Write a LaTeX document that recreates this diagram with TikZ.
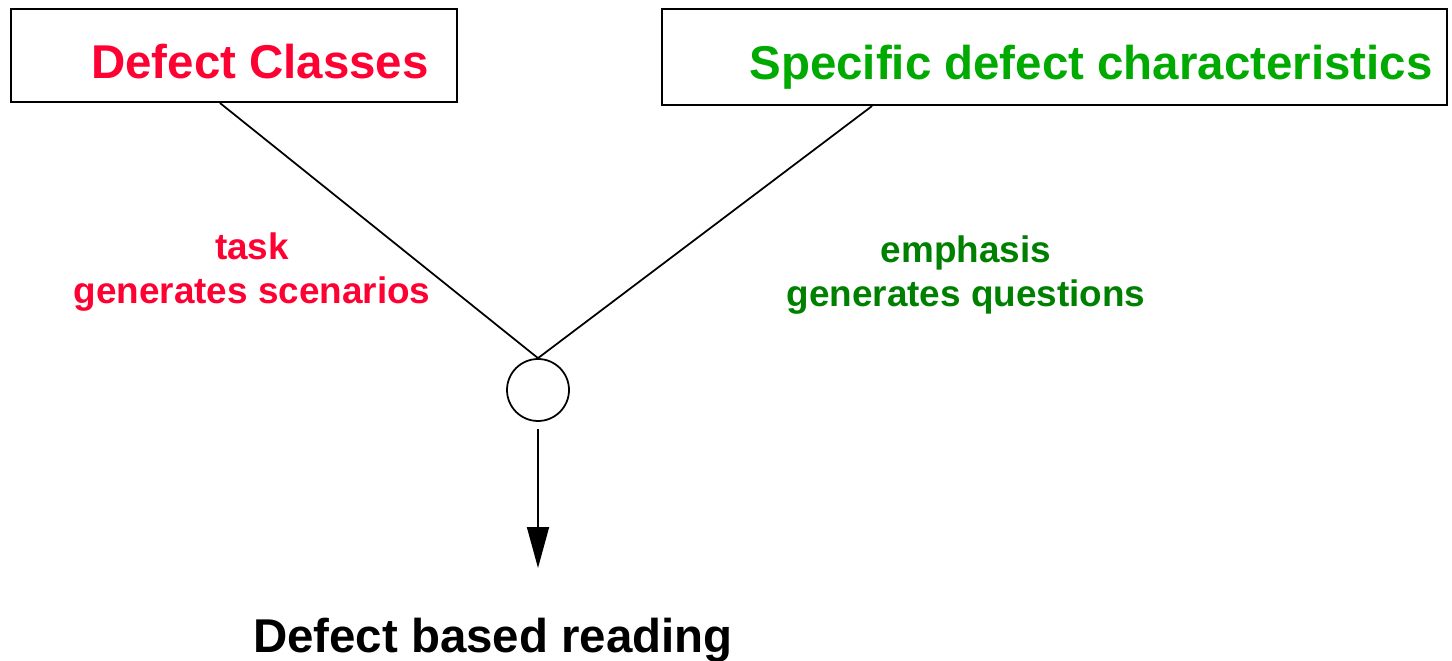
\documentclass[tikz,border=0pt]{standalone}
\usepackage{fontspec}
\setmainfont{Liberation Sans}
\definecolor{defred}{HTML}{FF0033}
\definecolor{specgreen}{HTML}{00AA00}
\definecolor{labgreen}{HTML}{008000}
\usetikzlibrary{arrows.meta, positioning, calc}

\begin{document}
\begin{tikzpicture}[x=0.02cm, y=-0.02cm,
    box/.style={rectangle, draw=black, line width=1.2pt, fill=white},
    title/.style={anchor=base, inner sep=0pt,
                  font=\fontsize{27}{32}\selectfont\bfseries},
    lab/.style={align=center, inner sep=0pt,
                font=\fontsize{21}{25.5}\selectfont\bfseries},
    link/.style={black, line width=1pt}
  ]
    \useasboundingbox (0,0) rectangle (1452,661);
    % Defect classes (left box)
    \node[box, minimum width=8.92cm, minimum height=1.86cm] (classes)
      at (234, 55.5) {};
    \node[title, defred] (classestxt) at (260, 79) {Defect Classes};
    % Specific characteristics (right box)
    \node[box, minimum width=15.7cm, minimum height=1.92cm] (specific)
      at (1054.5, 57) {};
    \node[title, specgreen] (specifictxt) at (1091, 80)
      {Specific defect characteristics};
    % Join point
    \node[circle, draw=black, line width=1pt, minimum size=1.24cm,
          inner sep=0pt] (dot) at (538, 390) {};
    \coordinate (tip) at (538, 568);
    % Labels on the branches
    \node[lab, defred] (task) at (252, 272)
      {task\\generates scenarios};
    \node[lab, labgreen] (emph) at (966, 275)
      {emphasis\\generates questions};
    % Result
    \node[title, black] (reading) at (493, 652) {Defect based reading};

    % Branch connections
    \draw[link] ([xshift=-0.28cm]classes.south) -- (dot.north);
    \draw[link] ([xshift=-3.65cm]specific.south) -- (dot.north);
    % Down to the result
    \draw[link, -{Triangle[length=0.82cm, width=0.44cm]},
          shorten <=4] (dot.south) -- (tip);
  \end{tikzpicture}
\end{document}
